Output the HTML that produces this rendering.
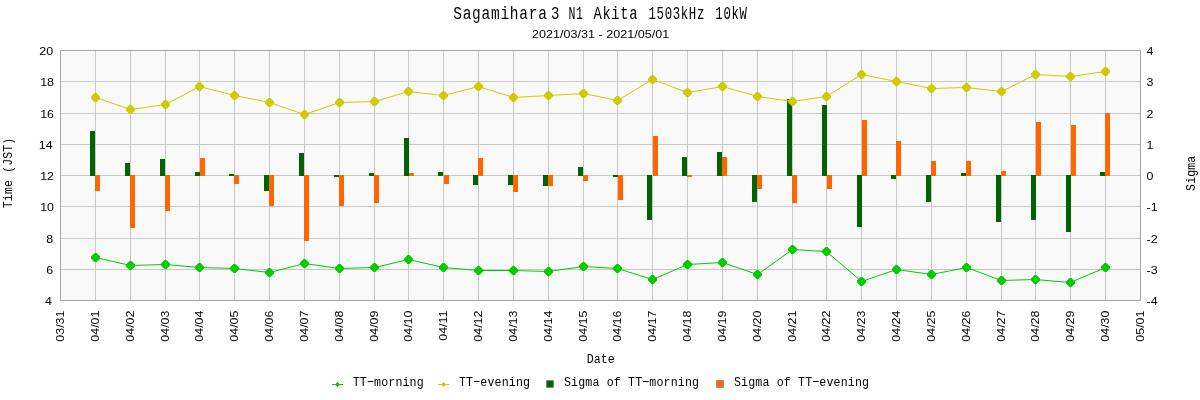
<!DOCTYPE html>
<html><head><meta charset="utf-8"><title>Sagamihara 3 N1 Akita 1503kHz 10kW</title>
<style>html,body{margin:0;padding:0;background:#fff;}body{width:1200px;height:400px;overflow:hidden;font-family:"Liberation Sans",sans-serif;}svg{display:block;will-change:transform;}</style>
</head><body>
<svg width="1200" height="400" viewBox="0 0 1200 400">
<rect x="0" y="0" width="1200" height="400" fill="#ffffff"/>
<rect x="60" y="50" width="1081" height="251" fill="#f9f9f9"/>
<g stroke="#c8c8c8" stroke-width="1" shape-rendering="crispEdges">
<line x1="95.5" y1="51" x2="95.5" y2="300"/>
<line x1="130.5" y1="51" x2="130.5" y2="300"/>
<line x1="165.5" y1="51" x2="165.5" y2="300"/>
<line x1="199.5" y1="51" x2="199.5" y2="300"/>
<line x1="234.5" y1="51" x2="234.5" y2="300"/>
<line x1="269.5" y1="51" x2="269.5" y2="300"/>
<line x1="304.5" y1="51" x2="304.5" y2="300"/>
<line x1="339.5" y1="51" x2="339.5" y2="300"/>
<line x1="374.5" y1="51" x2="374.5" y2="300"/>
<line x1="408.5" y1="51" x2="408.5" y2="300"/>
<line x1="443.5" y1="51" x2="443.5" y2="300"/>
<line x1="478.5" y1="51" x2="478.5" y2="300"/>
<line x1="513.5" y1="51" x2="513.5" y2="300"/>
<line x1="548.5" y1="51" x2="548.5" y2="300"/>
<line x1="583.5" y1="51" x2="583.5" y2="300"/>
<line x1="617.5" y1="51" x2="617.5" y2="300"/>
<line x1="652.5" y1="51" x2="652.5" y2="300"/>
<line x1="687.5" y1="51" x2="687.5" y2="300"/>
<line x1="722.5" y1="51" x2="722.5" y2="300"/>
<line x1="757.5" y1="51" x2="757.5" y2="300"/>
<line x1="792.5" y1="51" x2="792.5" y2="300"/>
<line x1="826.5" y1="51" x2="826.5" y2="300"/>
<line x1="861.5" y1="51" x2="861.5" y2="300"/>
<line x1="896.5" y1="51" x2="896.5" y2="300"/>
<line x1="931.5" y1="51" x2="931.5" y2="300"/>
<line x1="966.5" y1="51" x2="966.5" y2="300"/>
<line x1="1001.5" y1="51" x2="1001.5" y2="300"/>
<line x1="1035.5" y1="51" x2="1035.5" y2="300"/>
<line x1="1070.5" y1="51" x2="1070.5" y2="300"/>
<line x1="1105.5" y1="51" x2="1105.5" y2="300"/>
<line x1="61" y1="81.5" x2="1140" y2="81.5"/>
<line x1="61" y1="113.5" x2="1140" y2="113.5"/>
<line x1="61" y1="144.5" x2="1140" y2="144.5"/>
<line x1="61" y1="175.5" x2="1140" y2="175.5"/>
<line x1="61" y1="206.5" x2="1140" y2="206.5"/>
<line x1="61" y1="238.5" x2="1140" y2="238.5"/>
<line x1="61" y1="269.5" x2="1140" y2="269.5"/>
</g>
<g shape-rendering="crispEdges">
<rect x="90" y="131" width="5" height="45" fill="#006400"/>
<rect x="95" y="175" width="5" height="16" fill="#ff6600"/>
<rect x="125" y="163" width="5" height="13" fill="#006400"/>
<rect x="130" y="175" width="5" height="53" fill="#ff6600"/>
<rect x="160" y="159" width="5" height="17" fill="#006400"/>
<rect x="165" y="175" width="5" height="36" fill="#ff6600"/>
<rect x="195" y="172" width="5" height="4" fill="#006400"/>
<rect x="200" y="158" width="5" height="18" fill="#ff6600"/>
<rect x="229" y="174" width="5" height="2" fill="#006400"/>
<rect x="234" y="175" width="5" height="9" fill="#ff6600"/>
<rect x="264" y="175" width="5" height="16" fill="#006400"/>
<rect x="269" y="175" width="5" height="31" fill="#ff6600"/>
<rect x="299" y="153" width="5" height="23" fill="#006400"/>
<rect x="304" y="175" width="5" height="66" fill="#ff6600"/>
<rect x="334" y="175" width="5" height="2" fill="#006400"/>
<rect x="339" y="175" width="5" height="31" fill="#ff6600"/>
<rect x="369" y="173" width="5" height="3" fill="#006400"/>
<rect x="374" y="175" width="5" height="28" fill="#ff6600"/>
<rect x="404" y="138" width="5" height="38" fill="#006400"/>
<rect x="409" y="173" width="5" height="3" fill="#ff6600"/>
<rect x="438" y="172" width="5" height="4" fill="#006400"/>
<rect x="444" y="175" width="5" height="9" fill="#ff6600"/>
<rect x="473" y="175" width="5" height="10" fill="#006400"/>
<rect x="478" y="158" width="5" height="18" fill="#ff6600"/>
<rect x="508" y="175" width="5" height="10" fill="#006400"/>
<rect x="513" y="175" width="5" height="17" fill="#ff6600"/>
<rect x="543" y="175" width="5" height="11" fill="#006400"/>
<rect x="548" y="175" width="5" height="11" fill="#ff6600"/>
<rect x="578" y="167" width="5" height="9" fill="#006400"/>
<rect x="583" y="175" width="5" height="6" fill="#ff6600"/>
<rect x="613" y="175" width="5" height="2" fill="#006400"/>
<rect x="618" y="175" width="5" height="25" fill="#ff6600"/>
<rect x="647" y="175" width="5" height="45" fill="#006400"/>
<rect x="653" y="136" width="5" height="40" fill="#ff6600"/>
<rect x="682" y="157" width="5" height="19" fill="#006400"/>
<rect x="687" y="175" width="5" height="2" fill="#ff6600"/>
<rect x="717" y="152" width="5" height="24" fill="#006400"/>
<rect x="722" y="157" width="5" height="19" fill="#ff6600"/>
<rect x="752" y="175" width="5" height="27" fill="#006400"/>
<rect x="757" y="175" width="5" height="14" fill="#ff6600"/>
<rect x="787" y="99" width="5" height="77" fill="#006400"/>
<rect x="792" y="175" width="5" height="28" fill="#ff6600"/>
<rect x="822" y="105" width="5" height="71" fill="#006400"/>
<rect x="827" y="175" width="5" height="14" fill="#ff6600"/>
<rect x="857" y="175" width="5" height="52" fill="#006400"/>
<rect x="862" y="120" width="5" height="56" fill="#ff6600"/>
<rect x="891" y="175" width="5" height="4" fill="#006400"/>
<rect x="896" y="141" width="5" height="35" fill="#ff6600"/>
<rect x="926" y="175" width="5" height="27" fill="#006400"/>
<rect x="931" y="161" width="5" height="15" fill="#ff6600"/>
<rect x="961" y="173" width="5" height="3" fill="#006400"/>
<rect x="966" y="161" width="5" height="15" fill="#ff6600"/>
<rect x="996" y="175" width="5" height="47" fill="#006400"/>
<rect x="1001" y="171" width="5" height="5" fill="#ff6600"/>
<rect x="1031" y="175" width="5" height="45" fill="#006400"/>
<rect x="1036" y="122" width="5" height="54" fill="#ff6600"/>
<rect x="1066" y="175" width="5" height="57" fill="#006400"/>
<rect x="1071" y="125" width="5" height="51" fill="#ff6600"/>
<rect x="1100" y="172" width="5" height="4" fill="#006400"/>
<rect x="1105" y="113" width="5" height="63" fill="#ff6600"/>
</g>
<rect x="60.5" y="50.5" width="1080" height="250" fill="none" stroke="#a4a4a4" stroke-width="1" shape-rendering="crispEdges"/>
<polyline points="95.5,257.5 130.5,265.5 165.5,264.5 199.5,267.5 234.5,268.5 269.5,272.5 304.5,263.5 339.5,268.5 374.5,267.5 408.5,259.5 443.5,267.5 478.5,270.5 513.5,270.5 548.5,271.5 583.5,266.5 617.5,268.5 652.5,279.5 687.5,264.5 722.5,262.5 757.5,274.5 792.5,249.5 826.5,251.5 861.5,281.5 896.5,269.5 931.5,274.5 966.5,267.5 1001.5,280.5 1035.5,279.5 1070.5,282.5 1105.5,267.5" fill="none" stroke="#00cc00" stroke-width="1"/>
<path d="M94.5,253.0h2l3.5,3.5v2l-3.5,3.5h-2l-3.5,-3.5v-2zM129.5,261.0h2l3.5,3.5v2l-3.5,3.5h-2l-3.5,-3.5v-2zM164.5,260.0h2l3.5,3.5v2l-3.5,3.5h-2l-3.5,-3.5v-2zM198.5,263.0h2l3.5,3.5v2l-3.5,3.5h-2l-3.5,-3.5v-2zM233.5,264.0h2l3.5,3.5v2l-3.5,3.5h-2l-3.5,-3.5v-2zM268.5,268.0h2l3.5,3.5v2l-3.5,3.5h-2l-3.5,-3.5v-2zM303.5,259.0h2l3.5,3.5v2l-3.5,3.5h-2l-3.5,-3.5v-2zM338.5,264.0h2l3.5,3.5v2l-3.5,3.5h-2l-3.5,-3.5v-2zM373.5,263.0h2l3.5,3.5v2l-3.5,3.5h-2l-3.5,-3.5v-2zM407.5,255.0h2l3.5,3.5v2l-3.5,3.5h-2l-3.5,-3.5v-2zM442.5,263.0h2l3.5,3.5v2l-3.5,3.5h-2l-3.5,-3.5v-2zM477.5,266.0h2l3.5,3.5v2l-3.5,3.5h-2l-3.5,-3.5v-2zM512.5,266.0h2l3.5,3.5v2l-3.5,3.5h-2l-3.5,-3.5v-2zM547.5,267.0h2l3.5,3.5v2l-3.5,3.5h-2l-3.5,-3.5v-2zM582.5,262.0h2l3.5,3.5v2l-3.5,3.5h-2l-3.5,-3.5v-2zM616.5,264.0h2l3.5,3.5v2l-3.5,3.5h-2l-3.5,-3.5v-2zM651.5,275.0h2l3.5,3.5v2l-3.5,3.5h-2l-3.5,-3.5v-2zM686.5,260.0h2l3.5,3.5v2l-3.5,3.5h-2l-3.5,-3.5v-2zM721.5,258.0h2l3.5,3.5v2l-3.5,3.5h-2l-3.5,-3.5v-2zM756.5,270.0h2l3.5,3.5v2l-3.5,3.5h-2l-3.5,-3.5v-2zM791.5,245.0h2l3.5,3.5v2l-3.5,3.5h-2l-3.5,-3.5v-2zM825.5,247.0h2l3.5,3.5v2l-3.5,3.5h-2l-3.5,-3.5v-2zM860.5,277.0h2l3.5,3.5v2l-3.5,3.5h-2l-3.5,-3.5v-2zM895.5,265.0h2l3.5,3.5v2l-3.5,3.5h-2l-3.5,-3.5v-2zM930.5,270.0h2l3.5,3.5v2l-3.5,3.5h-2l-3.5,-3.5v-2zM965.5,263.0h2l3.5,3.5v2l-3.5,3.5h-2l-3.5,-3.5v-2zM1000.5,276.0h2l3.5,3.5v2l-3.5,3.5h-2l-3.5,-3.5v-2zM1034.5,275.0h2l3.5,3.5v2l-3.5,3.5h-2l-3.5,-3.5v-2zM1069.5,278.0h2l3.5,3.5v2l-3.5,3.5h-2l-3.5,-3.5v-2zM1104.5,263.0h2l3.5,3.5v2l-3.5,3.5h-2l-3.5,-3.5v-2z" fill="#00cc00"/>
<polyline points="95.5,97.5 130.5,109.5 165.5,104.5 199.5,86.5 234.5,95.5 269.5,102.5 304.5,114.5 339.5,102.5 374.5,101.5 408.5,91.5 443.5,95.5 478.5,86.5 513.5,97.5 548.5,95.5 583.5,93.5 617.5,100.5 652.5,79.5 687.5,92.5 722.5,86.5 757.5,96.5 792.5,101.5 826.5,96.5 861.5,74.5 896.5,81.5 931.5,88.5 966.5,87.5 1001.5,91.5 1035.5,74.5 1070.5,76.5 1105.5,71.5" fill="none" stroke="#cccc00" stroke-width="1"/>
<path d="M94.5,93.0h2l3.5,3.5v2l-3.5,3.5h-2l-3.5,-3.5v-2zM129.5,105.0h2l3.5,3.5v2l-3.5,3.5h-2l-3.5,-3.5v-2zM164.5,100.0h2l3.5,3.5v2l-3.5,3.5h-2l-3.5,-3.5v-2zM198.5,82.0h2l3.5,3.5v2l-3.5,3.5h-2l-3.5,-3.5v-2zM233.5,91.0h2l3.5,3.5v2l-3.5,3.5h-2l-3.5,-3.5v-2zM268.5,98.0h2l3.5,3.5v2l-3.5,3.5h-2l-3.5,-3.5v-2zM303.5,110.0h2l3.5,3.5v2l-3.5,3.5h-2l-3.5,-3.5v-2zM338.5,98.0h2l3.5,3.5v2l-3.5,3.5h-2l-3.5,-3.5v-2zM373.5,97.0h2l3.5,3.5v2l-3.5,3.5h-2l-3.5,-3.5v-2zM407.5,87.0h2l3.5,3.5v2l-3.5,3.5h-2l-3.5,-3.5v-2zM442.5,91.0h2l3.5,3.5v2l-3.5,3.5h-2l-3.5,-3.5v-2zM477.5,82.0h2l3.5,3.5v2l-3.5,3.5h-2l-3.5,-3.5v-2zM512.5,93.0h2l3.5,3.5v2l-3.5,3.5h-2l-3.5,-3.5v-2zM547.5,91.0h2l3.5,3.5v2l-3.5,3.5h-2l-3.5,-3.5v-2zM582.5,89.0h2l3.5,3.5v2l-3.5,3.5h-2l-3.5,-3.5v-2zM616.5,96.0h2l3.5,3.5v2l-3.5,3.5h-2l-3.5,-3.5v-2zM651.5,75.0h2l3.5,3.5v2l-3.5,3.5h-2l-3.5,-3.5v-2zM686.5,88.0h2l3.5,3.5v2l-3.5,3.5h-2l-3.5,-3.5v-2zM721.5,82.0h2l3.5,3.5v2l-3.5,3.5h-2l-3.5,-3.5v-2zM756.5,92.0h2l3.5,3.5v2l-3.5,3.5h-2l-3.5,-3.5v-2zM791.5,97.0h2l3.5,3.5v2l-3.5,3.5h-2l-3.5,-3.5v-2zM825.5,92.0h2l3.5,3.5v2l-3.5,3.5h-2l-3.5,-3.5v-2zM860.5,70.0h2l3.5,3.5v2l-3.5,3.5h-2l-3.5,-3.5v-2zM895.5,77.0h2l3.5,3.5v2l-3.5,3.5h-2l-3.5,-3.5v-2zM930.5,84.0h2l3.5,3.5v2l-3.5,3.5h-2l-3.5,-3.5v-2zM965.5,83.0h2l3.5,3.5v2l-3.5,3.5h-2l-3.5,-3.5v-2zM1000.5,87.0h2l3.5,3.5v2l-3.5,3.5h-2l-3.5,-3.5v-2zM1034.5,70.0h2l3.5,3.5v2l-3.5,3.5h-2l-3.5,-3.5v-2zM1069.5,72.0h2l3.5,3.5v2l-3.5,3.5h-2l-3.5,-3.5v-2zM1104.5,67.0h2l3.5,3.5v2l-3.5,3.5h-2l-3.5,-3.5v-2z" fill="#cccc00"/>
<text transform="translate(53.1,54.9) scale(1.1,1)" text-anchor="end" font-family="Liberation Sans, sans-serif" font-size="11.3" fill="#000">20</text>
<text transform="translate(54.0,85.9) scale(1.1,1)" text-anchor="end" font-family="Liberation Sans, sans-serif" font-size="11.3" fill="#000">18</text>
<text transform="translate(54.0,117.9) scale(1.1,1)" text-anchor="end" font-family="Liberation Sans, sans-serif" font-size="11.3" fill="#000">16</text>
<text transform="translate(52.6,148.9) scale(1.1,1)" text-anchor="end" font-family="Liberation Sans, sans-serif" font-size="11.3" fill="#000">14</text>
<text transform="translate(54.0,179.9) scale(1.1,1)" text-anchor="end" font-family="Liberation Sans, sans-serif" font-size="11.3" fill="#000">12</text>
<text transform="translate(54.0,210.9) scale(1.1,1)" text-anchor="end" font-family="Liberation Sans, sans-serif" font-size="11.3" fill="#000">10</text>
<text transform="translate(53.1,242.9) scale(1.1,1)" text-anchor="end" font-family="Liberation Sans, sans-serif" font-size="11.3" fill="#000">8</text>
<text transform="translate(53.1,273.9) scale(1.1,1)" text-anchor="end" font-family="Liberation Sans, sans-serif" font-size="11.3" fill="#000">6</text>
<text transform="translate(52.0,304.9) scale(1.1,1)" text-anchor="end" font-family="Liberation Sans, sans-serif" font-size="11.3" fill="#000">4</text>
<text transform="translate(1146.6,54.9) scale(1.1,1)" font-family="Liberation Sans, sans-serif" font-size="11.3" fill="#000">4</text>
<text transform="translate(1146.6,85.9) scale(1.1,1)" font-family="Liberation Sans, sans-serif" font-size="11.3" fill="#000">3</text>
<text transform="translate(1146.6,117.9) scale(1.1,1)" font-family="Liberation Sans, sans-serif" font-size="11.3" fill="#000">2</text>
<text transform="translate(1146.6,148.9) scale(1.1,1)" font-family="Liberation Sans, sans-serif" font-size="11.3" fill="#000">1</text>
<text transform="translate(1146.6,179.9) scale(1.1,1)" font-family="Liberation Sans, sans-serif" font-size="11.3" fill="#000">0</text>
<text transform="translate(1146.6,210.9) scale(1.1,1)" font-family="Liberation Sans, sans-serif" font-size="11.3" fill="#000">-1</text>
<text transform="translate(1146.6,242.9) scale(1.1,1)" font-family="Liberation Sans, sans-serif" font-size="11.3" fill="#000">-2</text>
<text transform="translate(1146.6,273.9) scale(1.1,1)" font-family="Liberation Sans, sans-serif" font-size="11.3" fill="#000">-3</text>
<text transform="translate(1146.6,304.9) scale(1.1,1)" font-family="Liberation Sans, sans-serif" font-size="11.3" fill="#000">-4</text>
<text transform="translate(63.6,310.6) rotate(-90) scale(1.1,1)" text-anchor="end" font-family="Liberation Sans, sans-serif" font-size="11.3" fill="#000">03/31</text>
<text transform="translate(98.6,310.6) rotate(-90) scale(1.1,1)" text-anchor="end" font-family="Liberation Sans, sans-serif" font-size="11.3" fill="#000">04/01</text>
<text transform="translate(133.6,310.6) rotate(-90) scale(1.1,1)" text-anchor="end" font-family="Liberation Sans, sans-serif" font-size="11.3" fill="#000">04/02</text>
<text transform="translate(168.6,310.6) rotate(-90) scale(1.1,1)" text-anchor="end" font-family="Liberation Sans, sans-serif" font-size="11.3" fill="#000">04/03</text>
<text transform="translate(202.6,310.6) rotate(-90) scale(1.1,1)" text-anchor="end" font-family="Liberation Sans, sans-serif" font-size="11.3" fill="#000">04/04</text>
<text transform="translate(237.6,310.6) rotate(-90) scale(1.1,1)" text-anchor="end" font-family="Liberation Sans, sans-serif" font-size="11.3" fill="#000">04/05</text>
<text transform="translate(272.6,310.6) rotate(-90) scale(1.1,1)" text-anchor="end" font-family="Liberation Sans, sans-serif" font-size="11.3" fill="#000">04/06</text>
<text transform="translate(307.6,310.6) rotate(-90) scale(1.1,1)" text-anchor="end" font-family="Liberation Sans, sans-serif" font-size="11.3" fill="#000">04/07</text>
<text transform="translate(342.6,310.6) rotate(-90) scale(1.1,1)" text-anchor="end" font-family="Liberation Sans, sans-serif" font-size="11.3" fill="#000">04/08</text>
<text transform="translate(377.6,310.6) rotate(-90) scale(1.1,1)" text-anchor="end" font-family="Liberation Sans, sans-serif" font-size="11.3" fill="#000">04/09</text>
<text transform="translate(411.6,310.6) rotate(-90) scale(1.1,1)" text-anchor="end" font-family="Liberation Sans, sans-serif" font-size="11.3" fill="#000">04/10</text>
<text transform="translate(446.6,310.6) rotate(-90) scale(1.1,1)" text-anchor="end" font-family="Liberation Sans, sans-serif" font-size="11.3" fill="#000">04/11</text>
<text transform="translate(481.6,310.6) rotate(-90) scale(1.1,1)" text-anchor="end" font-family="Liberation Sans, sans-serif" font-size="11.3" fill="#000">04/12</text>
<text transform="translate(516.6,310.6) rotate(-90) scale(1.1,1)" text-anchor="end" font-family="Liberation Sans, sans-serif" font-size="11.3" fill="#000">04/13</text>
<text transform="translate(551.6,310.6) rotate(-90) scale(1.1,1)" text-anchor="end" font-family="Liberation Sans, sans-serif" font-size="11.3" fill="#000">04/14</text>
<text transform="translate(586.6,310.6) rotate(-90) scale(1.1,1)" text-anchor="end" font-family="Liberation Sans, sans-serif" font-size="11.3" fill="#000">04/15</text>
<text transform="translate(620.6,310.6) rotate(-90) scale(1.1,1)" text-anchor="end" font-family="Liberation Sans, sans-serif" font-size="11.3" fill="#000">04/16</text>
<text transform="translate(655.6,310.6) rotate(-90) scale(1.1,1)" text-anchor="end" font-family="Liberation Sans, sans-serif" font-size="11.3" fill="#000">04/17</text>
<text transform="translate(690.6,310.6) rotate(-90) scale(1.1,1)" text-anchor="end" font-family="Liberation Sans, sans-serif" font-size="11.3" fill="#000">04/18</text>
<text transform="translate(725.6,310.6) rotate(-90) scale(1.1,1)" text-anchor="end" font-family="Liberation Sans, sans-serif" font-size="11.3" fill="#000">04/19</text>
<text transform="translate(760.6,310.6) rotate(-90) scale(1.1,1)" text-anchor="end" font-family="Liberation Sans, sans-serif" font-size="11.3" fill="#000">04/20</text>
<text transform="translate(795.6,310.6) rotate(-90) scale(1.1,1)" text-anchor="end" font-family="Liberation Sans, sans-serif" font-size="11.3" fill="#000">04/21</text>
<text transform="translate(829.6,310.6) rotate(-90) scale(1.1,1)" text-anchor="end" font-family="Liberation Sans, sans-serif" font-size="11.3" fill="#000">04/22</text>
<text transform="translate(864.6,310.6) rotate(-90) scale(1.1,1)" text-anchor="end" font-family="Liberation Sans, sans-serif" font-size="11.3" fill="#000">04/23</text>
<text transform="translate(899.6,310.6) rotate(-90) scale(1.1,1)" text-anchor="end" font-family="Liberation Sans, sans-serif" font-size="11.3" fill="#000">04/24</text>
<text transform="translate(934.6,310.6) rotate(-90) scale(1.1,1)" text-anchor="end" font-family="Liberation Sans, sans-serif" font-size="11.3" fill="#000">04/25</text>
<text transform="translate(969.6,310.6) rotate(-90) scale(1.1,1)" text-anchor="end" font-family="Liberation Sans, sans-serif" font-size="11.3" fill="#000">04/26</text>
<text transform="translate(1004.6,310.6) rotate(-90) scale(1.1,1)" text-anchor="end" font-family="Liberation Sans, sans-serif" font-size="11.3" fill="#000">04/27</text>
<text transform="translate(1038.6,310.6) rotate(-90) scale(1.1,1)" text-anchor="end" font-family="Liberation Sans, sans-serif" font-size="11.3" fill="#000">04/28</text>
<text transform="translate(1073.6,310.6) rotate(-90) scale(1.1,1)" text-anchor="end" font-family="Liberation Sans, sans-serif" font-size="11.3" fill="#000">04/29</text>
<text transform="translate(1108.6,310.6) rotate(-90) scale(1.1,1)" text-anchor="end" font-family="Liberation Sans, sans-serif" font-size="11.3" fill="#000">04/30</text>
<text transform="translate(1143.6,310.6) rotate(-90) scale(1.1,1)" text-anchor="end" font-family="Liberation Sans, sans-serif" font-size="11.3" fill="#000">05/01</text>
<text transform="translate(600.6,38.2) scale(1.114,1)" text-anchor="middle" font-family="Liberation Sans, sans-serif" font-size="11.3" fill="#000">2021/03/31 - 2021/05/01</text>
<text transform="translate(453.21664969450103,18.7) scale(0.92,1.147)" font-family="Liberation Mono, monospace" font-size="15.74" letter-spacing="0.821" text-anchor="start" fill="#000">Sagamihara</text>
<text transform="translate(550.9756097560976,18.7) scale(0.92,1.185)" font-family="Liberation Mono, monospace" font-size="15.24" letter-spacing="0.795" text-anchor="start" fill="#000">3</text>
<text transform="translate(568.5233516483516,18.7) scale(0.92,1.434)" font-family="Liberation Mono, monospace" font-size="12.59" letter-spacing="0.657" text-anchor="start" fill="#000">N1</text>
<text transform="translate(593.4814315352697,18.7) scale(0.92,1.210)" font-family="Liberation Mono, monospace" font-size="14.92" letter-spacing="0.778" text-anchor="start" fill="#000">Akita</text>
<text transform="translate(648.508064516129,18.7) scale(0.92,1.343)" font-family="Liberation Mono, monospace" font-size="13.44" letter-spacing="0.701" text-anchor="start" fill="#000">1503kHz</text>
<text transform="translate(715.3592931937173,18.7) scale(0.92,1.350)" font-family="Liberation Mono, monospace" font-size="13.37" letter-spacing="0.698" text-anchor="start" fill="#000">10kW</text>
<text transform="translate(600.7,362.5) scale(0.98,1.108)" font-family="Liberation Mono, monospace" font-size="11.78" letter-spacing="0.144" text-anchor="middle" fill="#000" dx="0.07">Date</text>
<text transform="translate(12.1,173) rotate(-90) scale(0.98,1.159)" font-family="Liberation Mono, monospace" font-size="11.78" letter-spacing="0.144" text-anchor="middle" fill="#000" dx="0.07">Time (JST)</text>
<text transform="translate(1194.5,173.3) rotate(-90) scale(0.98,1.159)" font-family="Liberation Mono, monospace" font-size="11.78" letter-spacing="0.144" text-anchor="middle" fill="#000" dx="0.07">Sigma</text>
<g fill="#00cc00" shape-rendering="crispEdges"><rect x="332" y="384" width="11" height="1"/><rect x="336" y="383" width="3" height="3"/><rect x="337" y="382" width="1" height="5"/></g>
<text transform="translate(352.7,386.4) scale(0.98,1.151)" font-family="Liberation Mono, monospace" font-size="11.87" letter-spacing="0.145" text-anchor="start" fill="#000">TT−morning</text>
<g fill="#cccc00" shape-rendering="crispEdges"><rect x="438" y="384" width="11" height="1"/><rect x="442" y="383" width="3" height="3"/><rect x="443" y="382" width="1" height="5"/></g>
<text transform="translate(459.0,386.4) scale(0.98,1.151)" font-family="Liberation Mono, monospace" font-size="11.87" letter-spacing="0.145" text-anchor="start" fill="#000">TT−evening</text>
<rect x="546.5" y="380.5" width="7" height="7" fill="#006400" stroke="#808080" stroke-opacity="0.7" stroke-width="1"/>
<text transform="translate(564.0,386.4) scale(0.98,1.151)" font-family="Liberation Mono, monospace" font-size="11.87" letter-spacing="0.145" text-anchor="start" fill="#000">Sigma of TT−morning</text>
<rect x="716.5" y="380.5" width="7" height="7" fill="#ff6600" stroke="#808080" stroke-opacity="0.7" stroke-width="1"/>
<text transform="translate(734.0,386.4) scale(0.98,1.151)" font-family="Liberation Mono, monospace" font-size="11.87" letter-spacing="0.145" text-anchor="start" fill="#000">Sigma of TT−evening</text>
</svg>
</body></html>
